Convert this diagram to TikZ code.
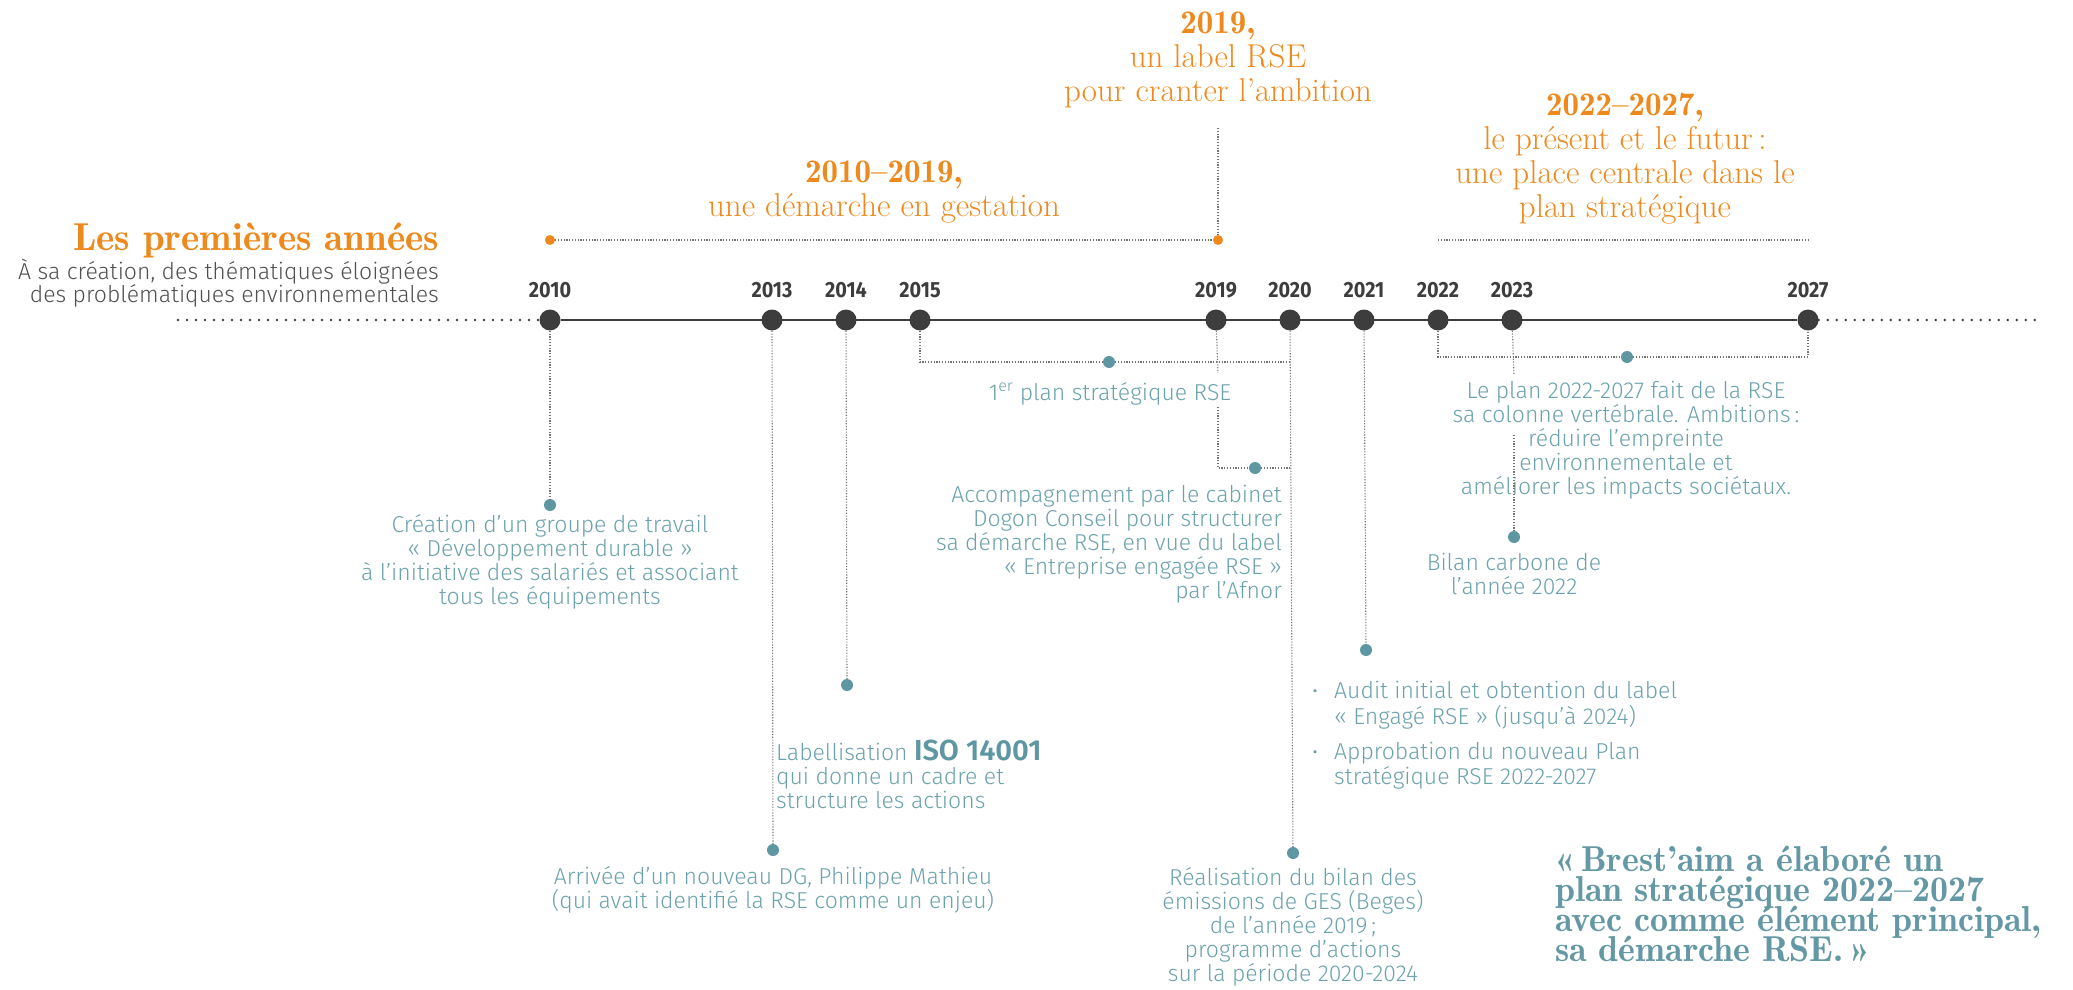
\documentclass[tikz,border=0pt]{standalone}
\usepackage{fontspec}
\usepackage{xcolor}
\usepackage{tikz}
\usetikzlibrary{positioning}

\newfontfamily\bodysans{Fira Sans}[UprightFont=* Light, BoldFont=* SemiBold]
\newfontfamily\yearsans{Fira Sans}[FakeStretch=0.9]
\newcommand{\didone}{\fontseries{b}\selectfont}
\newcommand{\tightlines}{\lineskiplimit=-20pt\relax}

\definecolor{rseorange}{RGB}{238,137,30}
\definecolor{rseteal}{RGB}{108,162,173}
\definecolor{rsedot}{RGB}{94,150,162}
\definecolor{rsequote}{RGB}{100,152,164}
\definecolor{rsedark}{RGB}{61,61,61}
\definecolor{rsegray}{RGB}{80,80,80}

\begin{document}
\begin{tikzpicture}[
        x=1pt, y=-1pt,
        yeardot/.style={circle, fill=rsedark, inner sep=0pt, minimum size=21pt},
        yearlabel/.style={font=\yearsans\bfseries\fontsize{22}{22}\selectfont, text=rsedark, inner sep=0pt},
        eventdot/.style={circle, fill=rsedot, inner sep=0pt, minimum size=12pt},
        markdot/.style={circle, fill=rseorange, inner sep=0pt, minimum size=10pt},
        desc/.style={font=\bodysans\fontsize{23}{24}\selectfont, text=rseteal, align=center, inner sep=0pt},
        phase/.style={font=\fontsize{33}{34}\selectfont, text=rseorange, align=center, inner sep=0pt},
        link/.style={dash pattern=on 1.2pt off 1.6pt, line width=1.1pt, black!55},
        tail/.style={line width=2.8pt, rsedark, dash pattern=on 0pt off 9pt, line cap=round}
    ]
        \useasboundingbox (0,0) rectangle (2073,990);

        % years on the axis
        \foreach \yr in {2010,2013,2014,2015,2019,2020,2021,2022,2023,2027}{
            \node[yeardot] (y\yr) at ({550+74*(\yr-2010)},320) {};
            \node[yearlabel, above=11pt of y\yr] (l\yr) {\yr};
        }
        \draw[line width=2.5pt, rsedark] (y2010) -- (y2027);
        \coordinate (tailL) at (178,320);
        \coordinate (tailR) at (2036,320);
        \draw[tail] (tailL) -- (y2010.west);
        \draw[tail] (y2027.east) -- (tailR);

        % title
        \node[anchor=east, font=\didone\fontsize{39}{39}\selectfont, text=rseorange, inner sep=0pt] (title) at (439,241) {Les premières années};
        \node[anchor=north east, font=\bodysans\fontsize{23}{23}\selectfont, text=rsegray, align=right, inner sep=0pt] (intro) at (439,259) {À sa création, des thématiques éloignées\\des problématiques environnementales};

        % phases
        \node[phase] (phase1) at (884,192) {{\didone 2010–2019,}\\une démarche en gestation};
        \node[phase] (phase2) at (1218,60) {{\didone 2019,}\\un label RSE\\pour cranter l’ambition};
        \node[phase] (phase3) at (1625,159) {{\didone 2022–2027,}\\le présent et le futur\,:\\une place centrale dans le\\plan stratégique};

        \node[markdot] (m2010) at (550,240) {};
        \node[markdot] (m2019) at (1218,240) {};
        \coordinate (lbl2019) at (1218,128);
        \draw[link] (m2010) -- (m2019);
        \draw[link] (lbl2019) -- (m2019);
        \draw[link] (y2022 |- m2010) -- (y2027 |- m2010);

        % events
        \node[eventdot] (e2010) at (550,505) {};
        \draw[link] (y2010) -- (e2010);
        \node[desc, below=3pt of e2010] (t2010) {Création d’un groupe de travail\\«~Développement durable~»\\à l’initiative des salariés et associant\\tous les équipements};

        \node[eventdot] (e2013) at (773,850) {};
        \draw[link] (y2013) -- (e2013);
        \node[desc, below=10pt of e2013] (t2013) {Arrivée d’un nouveau DG, Philippe Mathieu\\(qui avait identifié la RSE comme un enjeu)};

        \node[eventdot] (e2014) at (847,685) {};
        \draw[link] (y2014) -- (e2014);
        \node[desc, align=left, anchor=north west] (t2014) at (776,740) {Labellisation {\bfseries\color{rsedot}\fontsize{29}{24}\selectfont ISO 14001}\\qui donne un cadre et\\structure les actions};

        \node[eventdot] (e2015) at (1109,362) {};
        \draw[link] (y2015) |- (e2015) -- (y2020 |- e2015);
        \node[desc] (t2015) at (1110,394) {1\textsuperscript{er} plan stratégique RSE};

        \coordinate (gap19a) at (1218,373);
        \coordinate (gap19b) at (1218,407);
        \node[eventdot] (e2019) at (1255,468) {};
        \draw[link] (y2019) -- (gap19a);
        \draw[link] (gap19b) |- (e2019) -- (y2020 |- e2019);
        \node[desc, align=right, anchor=north east] (t2019) at (1282,485) {Accompagnement par le cabinet\\Dogon Conseil pour structurer\\sa démarche RSE, en vue du label\\«~Entreprise engagée RSE~»\\par l’Afnor};

        \node[eventdot] (e2020) at (1293,853) {};
        \draw[link] (y2020) -- (e2020);
        \node[desc, below=8pt of e2020] (t2020) {Réalisation du bilan des\\émissions de GES (Beges)\\de l’année 2019\,;\\programme d’actions\\sur la période 2020-2024};

        \node[eventdot] (e2021) at (1366,650) {};
        \draw[link] (y2021) -- (e2021);
        \node[desc, align=left, anchor=north west] (t2021) at (1312,681) {%
            \begin{tabular}{@{}l@{\hspace{16pt}}l@{}}
                {\fontsize{21}{24}\selectfont •} & Audit initial et obtention du label\\
                & «~Engagé RSE~» (jusqu’à 2024)\\[10pt]
                {\fontsize{21}{24}\selectfont •} & Approbation du nouveau Plan\\
                & stratégique RSE 2022-2027
            \end{tabular}};

        \node[eventdot] (e2227) at (1627,357) {};
        \draw[link] (y2022) |- (e2227) -| (y2027);
        \node[desc] (t2227) at (1626,440) {Le plan 2022-2027 fait de la RSE\\sa colonne vertébrale. Ambitions\,:\\réduire l’empreinte\\environnementale et\\améliorer les impacts sociétaux.};

        \coordinate (gap23a) at (1514,375);
        \coordinate (gap23b) at (1514,435);
        \node[eventdot] (e2023) at (1514,537) {};
        \draw[link] (y2023) -- (gap23a);
        \draw[link] (gap23b) -- (e2023);
        \node[desc, below=10pt of e2023] (t2023) {Bilan carbone de\\l’année 2022};

        % quote
        \node[anchor=north west, align=left, inner sep=0pt, text=rsequote, font=\didone\fontsize{36}{30}\selectfont\tightlines] (quote) at (1555,846) {«\,Brest’aim a élaboré un\\plan stratégique 2022–2027\\avec comme élément principal,\\sa démarche RSE.\,»};
    \end{tikzpicture}
\end{document}
